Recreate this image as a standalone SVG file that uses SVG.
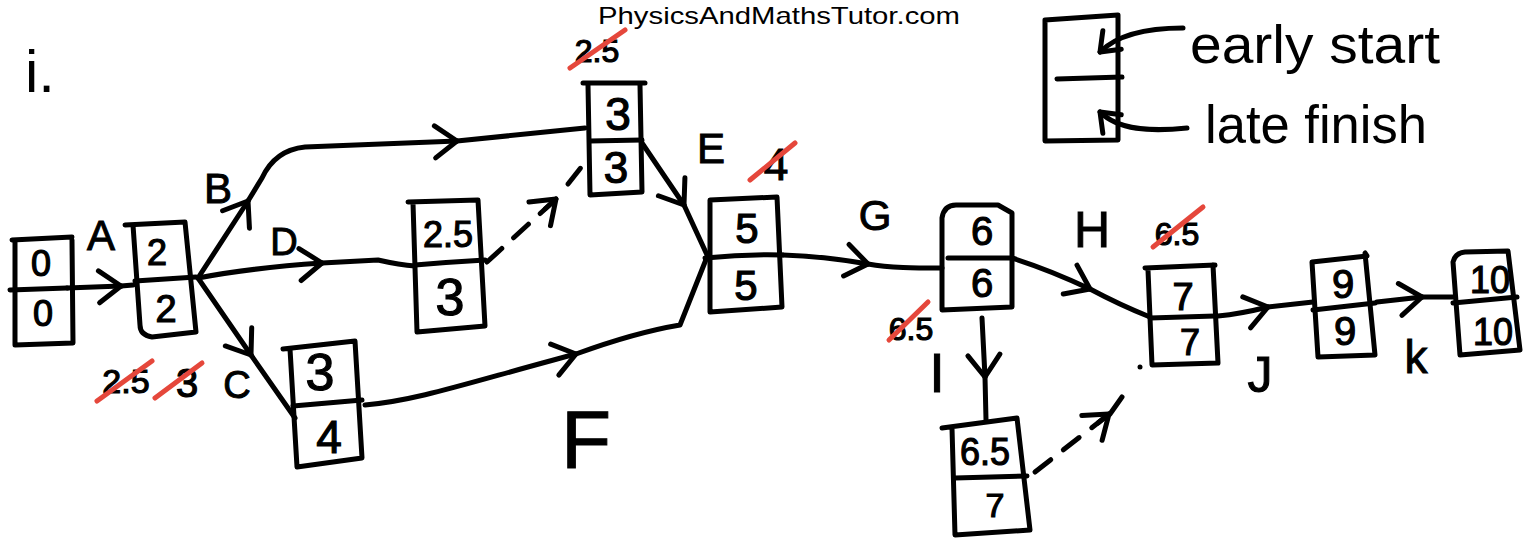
<svg xmlns="http://www.w3.org/2000/svg" width="1538" height="542" viewBox="0 0 1538 542">
<style>
.ln{fill:none;stroke:#000;stroke-width:5;stroke-linecap:round;stroke-linejoin:round}
.dash{fill:none;stroke:#000;stroke-width:5;stroke-linecap:round;stroke-dasharray:20 16}
.red{fill:none;stroke:#e5473b;stroke-width:5;stroke-linecap:round}
.t{font-family:"Liberation Sans",Arial,sans-serif;fill:#000;text-anchor:middle;stroke:#000;stroke-width:1.2}
.lab{font-family:"Liberation Sans",Arial,sans-serif;fill:#000;text-anchor:middle;stroke:#000;stroke-width:1}
.lg{font-family:"Liberation Sans",Arial,sans-serif;fill:#000;text-anchor:middle}
.hd{font-family:"Liberation Sans",Arial,sans-serif;fill:#000;font-size:24px;text-anchor:middle}
</style>
<defs>
<marker id="chev" viewBox="-30 -22 36 44" refX="0" refY="0" markerWidth="36" markerHeight="44" markerUnits="userSpaceOnUse" orient="auto" overflow="visible">
<path d="M-22,-16 L0,0 L-22,16" fill="none" stroke="#000" stroke-width="5" stroke-linecap="round" stroke-linejoin="round"/>
</marker>
<marker id="chevs" viewBox="-24 -18 30 36" refX="0" refY="0" markerWidth="30" markerHeight="36" markerUnits="userSpaceOnUse" orient="auto" overflow="visible">
<path d="M-17,-13 L0,0 L-17,13" fill="none" stroke="#000" stroke-width="5" stroke-linecap="round" stroke-linejoin="round"/>
</marker>
</defs>
<rect width="1538" height="542" fill="#fff"/>
<text class="hd" x="779" y="24" textLength="362" lengthAdjust="spacingAndGlyphs">PhysicsAndMathsTutor.com</text>
<text class="lg" x="40" y="92" font-size="60">i.</text>

<g id="legend">
<path class="ln" d="M1045,20 L1118,15 M1118,15 L1118,140 L1045,141 L1045,20"/>
<path class="ln" d="M1057,79 L1122,77"/>
<text class="lg" x="1315" y="63" font-size="54" textLength="250" lengthAdjust="spacingAndGlyphs">early start</text>
<text class="lg" x="1316" y="143" font-size="54" textLength="222" lengthAdjust="spacingAndGlyphs">late finish</text>
<path class="ln" d="M1183,28 C1150,28 1118,34 1100,52" marker-end="url(#chevs)"/>
<path class="ln" d="M1187,128 C1150,132 1118,130 1100,112" marker-end="url(#chevs)"/>
</g>

<g id="connectors">
<g id="edge-A">
<path class="ln" d="M67,288 L121,286" marker-end="url(#chev)"/>
<path class="ln" d="M121,286 L133,285"/>
<text class="lab" x="101" y="250" font-size="42">A</text>
</g>
<g id="edge-B">
<path class="ln" d="M198,278 L248,201" marker-end="url(#chev)"/>
<path class="ln" d="M248,201 L262,178 Q275,150 305,147 L457,141" marker-end="url(#chev)"/>
<path class="ln" d="M457,141 L585,128"/>
<text class="lab" x="218" y="203" font-size="42">B</text>
</g>
<g id="edge-D">
<path class="ln" d="M198,278 Q250,268 322,263" marker-end="url(#chev)"/>
<path class="ln" d="M322,263 L378,260 Q400,265 415,266"/>
<text class="lab" x="284" y="255" font-size="38">D</text>
</g>
<g id="edge-C">
<path class="ln" d="M198,278 L251,355" marker-end="url(#chev)"/>
<path class="ln" d="M251,355 L295,418"/>
<text class="lab" x="237" y="398" font-size="38">C</text>
</g>
<g id="edge-dummy1">
<path class="dash" d="M487,262 L555,200"/>
<path class="ln" d="M545,209 L556,199" marker-end="url(#chev)"/>
<path class="dash" d="M568,184 L587,160"/>
</g>
<g id="edge-E">
<path class="ln" d="M642,143 L684,205" marker-end="url(#chev)"/>
<path class="ln" d="M684,205 L708,257"/>
<text class="lab" x="711" y="163" font-size="42">E</text>
</g>
<g id="edge-F">
<path class="ln" d="M365,405 C420,400 470,382 576,354" marker-end="url(#chev)"/>
<path class="ln" d="M576,354 C620,338 650,330 680,325 L707,257"/>
<text class="lab" x="586" y="468" font-size="82">F</text>
</g>
<g id="edge-G">
<path class="ln" d="M783,255 C820,256 845,260 868,264" marker-end="url(#chev)"/>
<path class="ln" d="M868,264 C890,268 915,268 942,268"/>
<text class="lab" x="875" y="230" font-size="42">G</text>
</g>
<g id="edge-H">
<path class="ln" d="M1012,258 Q1050,270 1090,289" marker-end="url(#chev)"/>
<path class="ln" d="M1090,289 Q1120,305 1150,317"/>
<text class="lab" x="1092" y="247" font-size="50">H</text>
</g>
<g id="edge-I">
<path class="ln" d="M982,318 L985,377" marker-end="url(#chev)"/>
<path class="ln" d="M985,377 L986,420"/>
<text class="lab" x="937" y="392" font-size="56">I</text>
</g>
<g id="edge-dummy2">
<path class="dash" d="M1035,472 L1108,415"/>
<path class="ln" d="M1098,423 L1109,414" marker-end="url(#chev)"/>
<path class="ln" d="M1110,414 L1122,397"/>
<circle cx="1140" cy="367" r="2.5" fill="#000"/>
</g>
<g id="edge-J">
<path class="ln" d="M1218,316 Q1240,314 1268,307" marker-end="url(#chev)"/>
<path class="ln" d="M1268,307 L1313,302"/>
<text class="lab" x="1260" y="392" font-size="50">J</text>
</g>
<g id="edge-K">
<path class="ln" d="M1377,302 L1422,297" marker-end="url(#chev)"/>
<path class="ln" d="M1422,297 L1453,297"/>
<text class="lab" x="1416" y="373" font-size="46">k</text>
</g>
</g>

<g id="node-0">
<path class="ln" d="M12,240 L72,237 M15,240 L15,345 L73,343 L72,240"/>
<path class="ln" d="M10,290 L67,288"/>
<text class="t" x="41" y="276" font-size="36">0</text>
<text class="t" x="43" y="326" font-size="36">0</text>
</g>
<g id="node-1">
<path class="ln" d="M125,225 L185,222 L196,332 L152,337 Q140,335 140,325 L133,225"/>
<path class="ln" d="M135,281 L196,277"/>
<text class="t" x="157" y="265" font-size="36">2</text>
<text class="t" x="166" y="322" font-size="38">2</text>
<g id="crossed-1">
<text class="t" x="126" y="393" font-size="34">2.5</text>
<path class="red" d="M97,401 L152,361"/>
<text class="t" x="187" y="397" font-size="40">3</text>
<path class="red" d="M155,398 L202,363"/>
</g>
</g>
<g id="node-2">
<path class="ln" d="M583,83 L645,83 M588,85 L590,195 L642,192 L640,85"/>
<path class="ln" d="M590,141 L642,140"/>
<text class="t" x="618" y="130" font-size="46">3</text>
<text class="t" x="616" y="183" font-size="44">3</text>
<text class="t" x="597" y="62" font-size="32">2.5</text>
<path class="red" d="M570,68 L625,30"/>
</g>
<g id="node-3">
<path class="ln" d="M408,202 L478,200 L485,326 L417,332 L413,203"/>
<path class="ln" d="M415,265 Q450,262 485,260"/>
<text class="t" x="448" y="247" font-size="36" textLength="50" lengthAdjust="spacingAndGlyphs">2.5</text>
<text class="t" x="450" y="315" font-size="52">3</text>
</g>
<g id="node-4">
<path class="ln" d="M283,349 L355,341 L362,458 L297,467 L290,349"/>
<path class="ln" d="M293,406 L362,400"/>
<text class="t" x="320" y="390" font-size="52">3</text>
<text class="t" x="329" y="453" font-size="46">4</text>
</g>
<g id="node-5">
<path class="ln" d="M710,200 L777,197 L782,307 L710,312 Z"/>
<path class="ln" d="M705,258 Q745,254 783,255"/>
<text class="t" x="747" y="243" font-size="42">5</text>
<text class="t" x="746" y="300" font-size="42">5</text>
<text class="t" x="776" y="180" font-size="44">4</text>
<path class="red" d="M750,180 L795,143"/>
</g>
<g id="node-6">
<path class="ln" d="M942,310 L942,218 Q944,205 956,205 L998,205 L1012,213 L1012,307 Z"/>
<path class="ln" d="M948,258 L1012,258"/>
<text class="t" x="982" y="245" font-size="40">6</text>
<text class="t" x="982" y="297" font-size="40">6</text>
<text class="t" x="911" y="340" font-size="32">6.5</text>
<path class="red" d="M889,340 L928,302"/>
</g>
<g id="node-7">
<path class="ln" d="M1145,268 L1215,265 M1148,270 L1152,365 L1218,363 L1213,265"/>
<path class="ln" d="M1150,318 L1215,316"/>
<text class="t" x="1183" y="310" font-size="38">7</text>
<text class="t" x="1190" y="355" font-size="36">7</text>
<text class="t" x="1177" y="245" font-size="32">6.5</text>
<path class="red" d="M1153,247 L1203,207"/>
</g>
<g id="node-8">
<path class="ln" d="M942,428 L1017,418 M952,428 L955,535 L1030,530 L1017,418"/>
<path class="ln" d="M955,478 L1027,476"/>
<text class="t" x="985" y="465" font-size="38" textLength="50" lengthAdjust="spacingAndGlyphs">6.5</text>
<text class="t" x="995" y="517" font-size="34">7</text>
</g>
<g id="node-9">
<path class="ln" d="M1312,262 L1367,256 L1365,253 L1375,355 L1318,357 Z"/>
<path class="ln" d="M1313,310 L1375,303"/>
<text class="t" x="1343" y="298" font-size="40">9</text>
<text class="t" x="1345" y="345" font-size="40">9</text>
</g>
<g id="node-10">
<path class="ln" d="M1453,262 Q1455,253 1465,252 L1508,251 L1520,350 L1460,355 Z"/>
<path class="ln" d="M1453,303 L1517,297"/>
<text class="t" x="1490" y="293" font-size="38" textLength="40" lengthAdjust="spacingAndGlyphs">10</text>
<text class="t" x="1493" y="345" font-size="38" textLength="40" lengthAdjust="spacingAndGlyphs">10</text>
</g>
</svg>
